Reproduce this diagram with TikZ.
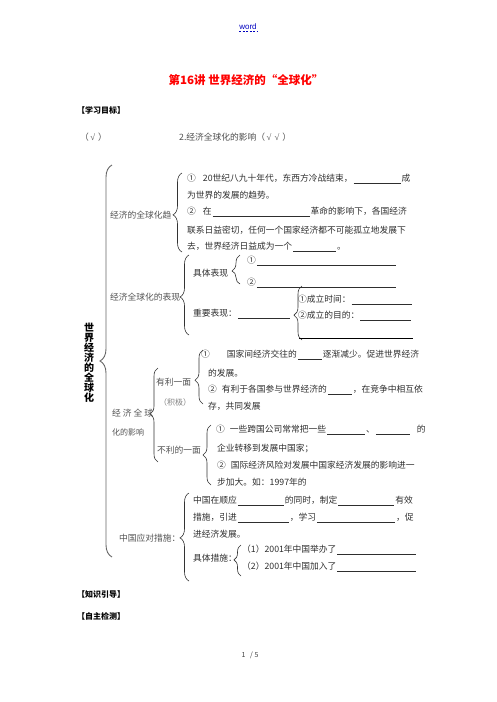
\documentclass[tikz,border=0pt]{standalone}
\usepackage{fontspec}
\setmainfont{Noto Sans CJK SC}
\newfontfamily\latinfont{Liberation Sans}
\newfontfamily\chkfont{Liberation Serif}
\usetikzlibrary{decorations.pathreplacing}
\newcommand{\blk}[1]{\hspace{1pt}\rule[-2.2pt]{#1pt}{0.6pt}\hspace{1pt}}
\newcommand{\chk}{{\chkfont\hspace{1.5pt}√\hspace{1.5pt}}}
\newcommand{\mybrace}[5]{\draw[brc,decoration={brace,amplitude=#4pt,aspect=#5}] (#1,#3) -- (#1,#2);}
\begin{document}
\begin{tikzpicture}[x=1pt,y=-1pt,
  txt/.style={anchor=west,inner sep=0pt,font=\fontsize{8.75}{10}\selectfont,text=black!82},
  lbl/.style={txt,text=black!68},
  hd/.style={anchor=west,inner sep=0pt,font=\fontsize{8}{10}\selectfont\bfseries,text=black},
  brc/.style={decorate,draw=black!80,line width=0.6pt},
  blankline/.style={draw=black,line width=0.6pt}]
\useasboundingbox (0,0) rectangle (496,702);
% header
\node[font=\latinfont\fontsize{8}{10}\selectfont,text=blue!75!black,inner sep=0pt] (word) at (248,27) {word};
\draw[blue!75!black,line width=0.5pt,dash pattern=on 2pt off 1.5pt] ([yshift=-1.5pt]word.base west) -- ([yshift=-1.5pt]word.base east);
\node[font=\fontsize{11.5}{13}\selectfont\bfseries,text=red,inner sep=0pt] (title) at (246,80) {第16讲\ 世界经济的“全球化”};
\node[hd] (h1) at (77,110) {【学习目标】};
\node[txt,text=black!70] (g1) at (80,137) {（\chk\,）};
\node[txt,text=black!70] (g2) at (179,137) {2.经济全球化的影响（\chk\chk\,）};
% vertical title
\node[font=\fontsize{10}{10}\selectfont\bfseries,align=center,inner sep=0pt] (vt) at (89,363) {世\\界\\经\\济\\的\\全\\球\\化};
% braces
\begin{scope}[brc/.append style={draw=black!60,line width=0.9pt}]
\mybrace{112}{165}{557}{12}{0.5}
\end{scope}
\mybrace{182}{173}{252}{9}{0.47}
\mybrace{189}{255}{335}{9}{0.475}
\mybrace{240}{255}{284}{8}{0.45}
\mybrace{302}{286}{340}{8}{0.46}
\mybrace{158}{368}{462}{8}{0.51}
\mybrace{203}{350}{404}{8}{0.44}
\mybrace{211}{425}{485}{8}{0.5}
\mybrace{189}{493}{581}{9}{0.49}
\mybrace{241}{545}{576}{7}{0.52}
% labels
\node[lbl] (l1) at (110,215) {经济的全球化趋};
\node[lbl] (l2) at (110,297) {经济全球化的表现};
\node[lbl] (l3a) at (112,413) {经\hspace{2pt}济\hspace{2pt}全\hspace{2pt}球};
\node[lbl,font=\fontsize{8}{10}\selectfont] (l3b) at (112,432) {化的影响};
\node[lbl] (l4) at (156,382) {有利一面};
\node[lbl,font=\fontsize{8}{10}\selectfont,text=black!50] (l4b) at (159,402) {（积极）};
\node[lbl] (l5) at (157,450) {不利的一面};
\node[lbl] (l6) at (119,538) {中国应对措施：};
% section 1
\node[txt] (r11) at (187,179) {①\hspace{7pt}20世纪八九十年代，东西方冷战结束，\blk{47}成};
\node[txt] (r12) at (187,195) {为世界的发展的趋势。};
\node[txt] (r13) at (187,212) {②\hspace{7pt}在\blk{97}革命的影响下，各国经济};
\node[txt] (r14) at (187,230) {联系日益密切，任何一个国家经济都不可能孤立地发展下};
\node[txt] (r15) at (187,247) {去，世界经济日益成为一个\blk{43}。};
% section 2
\node[txt] (s1) at (193,273) {具体表现};
\node[txt] (s11) at (247,261) {①\blk{139}};
\node[txt] (s12) at (247,283) {②\blk{139}};
\node[txt] (s2) at (193,314) {重要表现：\blk{52}};
\node[txt] (s21) at (298,300) {①成立时间：\blk{60}};
\node[txt] (s22) at (298,316) {②成立的目的：\blk{51}};
\coordinate (s3a) at (299,338);
\coordinate (s3b) at (413,338);
\draw[blankline] (s3a) -- (s3b);
% section 3
\node[txt] (p1) at (201,355) {①\hspace{17pt}国家间经济交往的\blk{24}逐渐减少。促进世界经济};
\node[txt] (p2) at (208,373) {的发展。};
\node[txt] (p3) at (208,390) {②\hspace{5pt}有利于各国参与世界经济的\blk{24}，在竞争中相互依};
\node[txt] (p4) at (208,406) {存，共同发展};
\node[txt] (q1) at (216,430) {①\hspace{5pt}一些跨国公司常常把一些\blk{38}、\blk{34}\hspace{6pt}的};
\node[txt] (q2) at (217,448) {企业转移到发展中国家；};
\node[txt] (q3) at (217,465) {②\hspace{5pt}国际经济风险对发展中国家经济发展的影响进一};
\node[txt] (q4) at (217,482) {步加大。如：1997年的};
% section 4
\node[txt] (c1) at (193,501) {中国在顺应\blk{46}的同时，制定\blk{56}有效};
\node[txt] (c2) at (193,518) {措施，引进\blk{51}，学习\blk{78}，促};
\node[txt] (c3) at (193,534) {进经济发展。};
\node[txt] (c4) at (193,558) {具体措施：};
\node[txt] (c41) at (242,550) {（1）2001年中国举办了\blk{79}};
\node[txt] (c42) at (242,567) {（2）2001年中国加入了\blk{79}};
% footer
\node[hd] (h2) at (77,594) {【知识引导】};
\node[hd] (h3) at (77,616) {【自主检测】};
\node[inner sep=0pt,font=\fontsize{7}{9}\selectfont,text=black!75] (pg) at (250,655) {1\ \ \ /\ 5};
\end{tikzpicture}
\end{document}
